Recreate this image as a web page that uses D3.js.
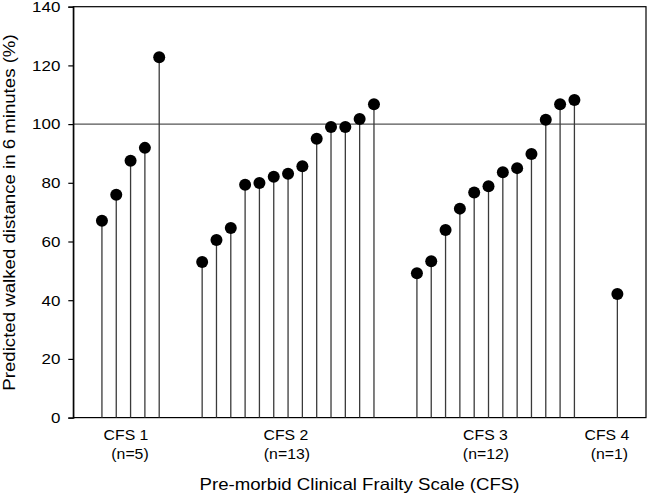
<!DOCTYPE html>
<html><head><meta charset="utf-8">
<script src="https://cdn.jsdelivr.net/npm/d3@7"></script>
<style>body{margin:0;background:#fff}svg{display:block}text{font-family:"Liberation Sans",Arial,sans-serif;fill:#000}</style>
</head><body>
<script>
const groups = ["CFS 1","CFS 2","CFS 3","CFS 4"];
const groupN = ["(n=5)","(n=13)","(n=12)","(n=1)"];
const groupStart = [2, 9, 24, 38];
const groupLabelPos = [3.68, 14.85, 28.79, 37.27];
const groupNPos = [3.96, 14.92, 28.82, 37.44];
const cfs1 = [67.1, 75.9, 87.5, 91.9, 122.8];
const cfs2 = [53.0, 60.5, 64.6, 79.3, 79.9, 82.1, 83.1, 85.6, 95.0, 99.0, 99.0, 101.7, 106.8];
const cfs3 = [49.2, 53.3, 63.9, 71.2, 76.7, 78.8, 83.6, 85.0, 89.8, 101.5, 106.8, 108.2];
const cfs4 = [42.1];
const yTicks = [0, 20, 40, 60, 80, 100, 120, 140];
const refValue = 100;

const W = 649, H = 498;
const SX = 1.13; // horizontal stretch of the reference lettering
const m = {l: 73.3, r: 3, t: 6.7, b: 80.4};
const svg = d3.select("body").append("svg").attr("width", W).attr("height", H);
const x = d3.scaleLinear().domain([0, 40]).range([m.l, W - m.r]);
const y = d3.scaleLinear().domain([0, 140]).range([H - m.b, m.t]);

const series = [cfs1, cfs2, cfs3, cfs4];
const pts = [];
series.forEach((s, gi) => s.forEach((v, j) => pts.push({i: groupStart[gi] + j, v})));

function stretchedText(sel, tx, ty, size, str, rot) {
  return sel.append("text")
    .attr("transform", `translate(${tx},${ty})` + (rot ? ` rotate(${rot})` : "") + ` scale(${SX},1)`)
    .attr("text-anchor", "middle").style("font-size", size + "px").text(str);
}

// frame
svg.append("rect").attr("x", x(0)).attr("y", y(140)).attr("width", x(40) - x(0)).attr("height", y(0) - y(140))
  .attr("fill", "none").attr("stroke", "#000").attr("stroke-width", 1.2);

// reference line
svg.append("line").attr("x1", x(0)).attr("x2", x(40)).attr("y1", y(refValue)).attr("y2", y(refValue))
  .attr("stroke", "#555").attr("stroke-width", 1.1);

// y axis
const ya = svg.append("g").attr("transform", `translate(${x(0)},0)`)
  .call(d3.axisLeft(y).tickValues(yTicks).tickSize(5).tickPadding(13).tickFormat(d3.format("d")));
ya.select(".domain").attr("stroke", "#000").attr("stroke-width", 1.2);
ya.selectAll(".tick line").attr("stroke", "#000").attr("stroke-width", 1.2);
ya.selectAll(".tick text").style("font-size", "15px").style("font-family", "Liberation Sans, Arial, sans-serif")
  .attr("fill", "#000").attr("x", -13 / SX).attr("transform", `scale(${SX},1)`);

// stems
svg.append("g").selectAll("line").data(pts).join("line")
  .attr("x1", d => x(d.i)).attr("x2", d => x(d.i))
  .attr("y1", y(0)).attr("y2", d => y(d.v))
  .attr("stroke", "#3a3a3a").attr("stroke-width", 1.3);

// dots
svg.append("g").selectAll("circle").data(pts).join("circle")
  .attr("cx", d => x(d.i)).attr("cy", d => y(d.v)).attr("r", 6).attr("fill", "#000");

// group labels
const gl = svg.append("g");
groups.forEach((g, i) => {
  stretchedText(gl, x(groupLabelPos[i]), 440, 14, g);
  stretchedText(gl, x(groupNPos[i]), 459, 14, groupN[i]);
});

// axis titles
stretchedText(svg, 359.5, 490, 16.5, "Pre-morbid Clinical Frailty Scale (CFS)");
stretchedText(svg, 15.3, 212.5, 16.5, "Predicted walked distance in 6 minutes (%)", -90);
</script>
</body></html>
